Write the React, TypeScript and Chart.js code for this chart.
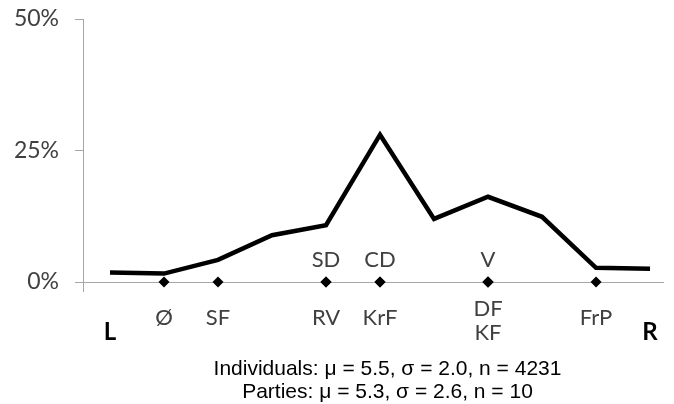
import React, { useEffect, useRef } from 'react';
import { Chart, registerables } from 'chart.js';

Chart.register(...registerables);

const scalePositions = [0, 1, 2, 3, 4, 5, 6, 7, 8, 9, 10];
const individualShares = [1.8, 1.6, 4.2, 8.9, 10.8, 28.0, 12.0, 16.2, 12.4, 2.7, 2.5];

const partyNames = ['Ø', 'SF', 'RV', 'SD', 'CD', 'KrF', 'V', 'DF', 'KF', 'FrP'];
const partyPositions = [1, 2, 4, 4, 5, 5, 7, 7, 7, 9];
const partyLabelSlots = ['below', 'below', 'below', 'above', 'above', 'below', 'above', 'belowUpper', 'belowLower', 'below'];

const yTicks = [0, 25, 50];
const endLabels = ['L', 'R'];
const endPositions = [0, 10];
const statsLines = [
  'Individuals: μ = 5.5, σ = 2.0, n = 4231',
  'Parties: μ = 5.3, σ = 2.6, n = 10',
];

const slotOffsets: Record<string, number> = {
  above: -15,
  below: 43,
  belowUpper: 34,
  belowLower: 58,
};

const labelPlugin = {
  id: 'partyLabels',
  afterDraw(chart: any) {
    const { ctx } = chart;
    const xs = chart.scales.x;
    const ys = chart.scales.y;
    const y0 = ys.getPixelForValue(0);
    ctx.save();
    ctx.textAlign = 'center';
    ctx.textBaseline = 'alphabetic';
    ctx.fillStyle = '#404040';
    ctx.font = '22px Lato';
    partyNames.forEach((name, i) => {
      ctx.fillText(name, xs.getPixelForValue(partyPositions[i]), y0 + slotOffsets[partyLabelSlots[i]]);
    });
    ctx.fillStyle = '#000000';
    ctx.font = 'bold 24px Lato';
    endLabels.forEach((t, i) => {
      ctx.fillText(t, xs.getPixelForValue(endPositions[i]), y0 + 58);
    });
    ctx.font = '21px "Liberation Sans"';
    ctx.fillText(statsLines[0], 387.5, 375);
    ctx.fillText(statsLines[1], 387.5, 398);
    ctx.restore();
  },
};

export default function App() {
  const ref = useRef<HTMLCanvasElement | null>(null);

  useEffect(() => {
    if (!ref.current) return;
    const chart = new Chart(ref.current, {
      type: 'line',
      data: {
        datasets: [
          {
            type: 'line',
            data: scalePositions.map((x, i) => ({ x, y: individualShares[i] })),
            borderColor: '#000000',
            borderWidth: 4.5,
            pointRadius: 0,
            tension: 0,
            borderJoinStyle: 'miter',
            clip: false as any,
          },
          {
            type: 'scatter',
            data: partyPositions.map((x) => ({ x, y: 0 })),
            pointStyle: 'rectRot',
            pointRadius: 5.5,
            backgroundColor: '#000000',
            borderColor: '#000000',
            borderWidth: 0,
            showLine: false,
            clip: false as any,
          },
        ] as any,
      },
      options: {
        animation: false,
        responsive: false,
        devicePixelRatio: 1,
        layout: { padding: { top: 19, right: 11, left: 0, bottom: 0 } },
        plugins: { legend: { display: false }, tooltip: { enabled: false } },
        scales: {
          x: {
            type: 'linear',
            min: -0.5,
            max: 10.24,
            afterBuildTicks: (s: any) => {
              s.ticks = [{ value: -0.5 }];
            },
            ticks: { display: false },
            grid: { drawOnChartArea: false, tickLength: 10, color: '#a6a6a6' },
            border: { color: '#a6a6a6' },
            afterFit: (s: any) => {
              s.height = 122;
              s.paddingLeft = 0;
              s.paddingRight = 0;
            },
          },
          y: {
            type: 'linear',
            min: 0,
            max: 50,
            afterBuildTicks: (s: any) => {
              s.ticks = yTicks.map((v) => ({ value: v }));
            },
            ticks: {
              callback: (v: any) => v + '%',
              font: { family: 'Lato', size: 23 },
              color: '#404040',
              padding: 16,
            },
            grid: { drawOnChartArea: false, tickLength: 8, color: '#a6a6a6' },
            border: { color: '#a6a6a6' },
            afterFit: (s: any) => {
              s.width = 83;
              s.paddingTop = 0;
              s.paddingBottom = 0;
            },
          },
        },
      },
      plugins: [labelPlugin],
    } as any);
    return () => chart.destroy();
  }, []);

  return (
    <div style={{ position: 'fixed', top: 0, left: 0, width: 674, height: 404, background: '#ffffff' }}>
      <canvas ref={ref} width={674} height={404} style={{ display: 'block' }} />
    </div>
  );
}
